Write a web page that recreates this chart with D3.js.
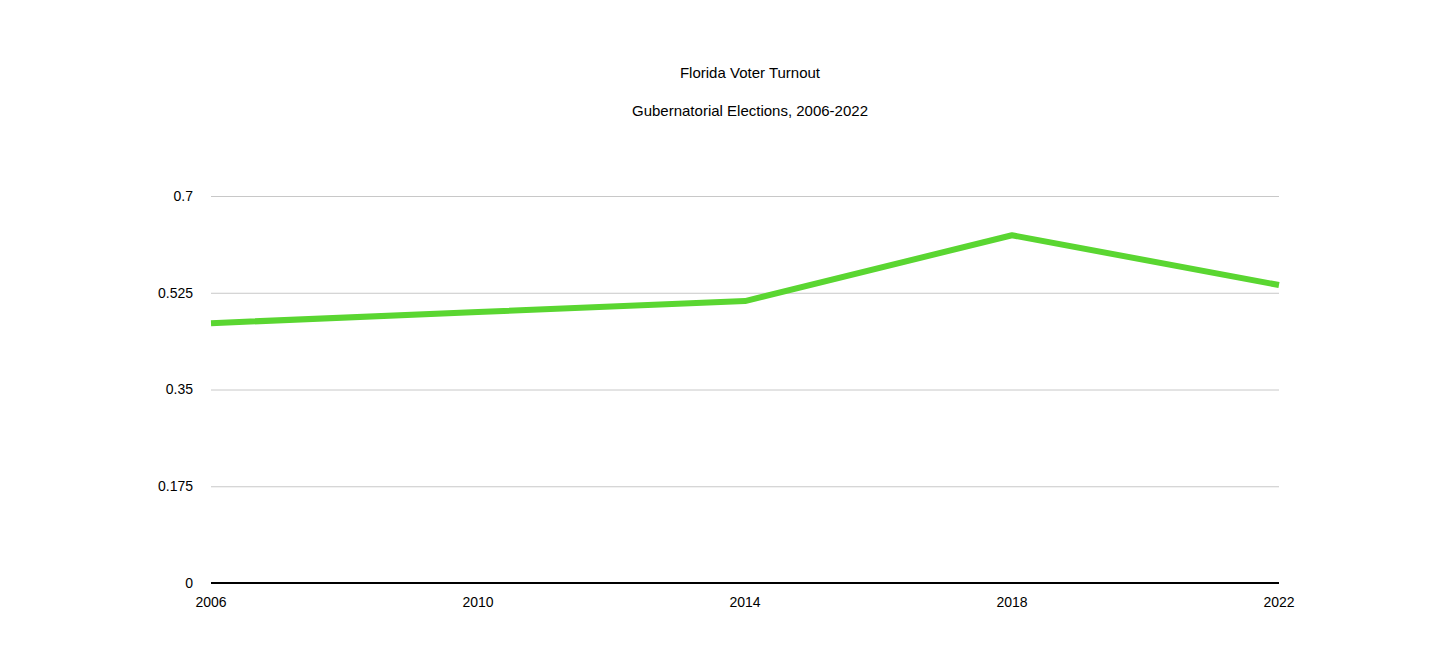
<!DOCTYPE html>
<html><head><meta charset="utf-8">
<script src="https://cdn.jsdelivr.net/npm/d3@7"></script>
<style>body{margin:0;background:#fff;font-family:"Liberation Sans",Arial,sans-serif}</style>
</head><body>
<svg class="linechart" width="1456" height="656"></svg>
<script>
// data
let years = [2006, 2010, 2014, 2018, 2022];
let turnout = [0.470, 0.490, 0.510, 0.629, 0.539];
let yTicks = [0, 0.175, 0.35, 0.525, 0.7];

let svg = d3.select(".linechart");
let margin = {top: 196, left: 211, right: 177, bottom: 73};
let plotWidth = 1456 - margin.left - margin.right;
let plotHeight = 656 - margin.top - margin.bottom;

let x = d3.scaleLinear().domain([2006, 2022]).range([0, plotWidth]);
let y = d3.scaleLinear().domain([0, 0.7]).range([plotHeight, 0]);

let plot = svg.append("g").attr("transform", translate(margin.left, margin.top));

// gridlines
let grid = plot.append("g").call(d3.axisLeft(y).tickValues(yTicks).tickSize(-plotWidth).tickFormat(""));
grid.select(".domain").remove();
grid.selectAll("line").attr("stroke", "#c8c8c8");

// y labels
plot.selectAll(".ylab").data(yTicks).enter().append("text")
  .attr("x", -18).attr("y", d => y(d)).attr("dy", "0.35em")
  .attr("text-anchor", "end").attr("font-size", 14).text(d => d);

// x axis line + labels
plot.append("line").attr("x1", 0).attr("x2", plotWidth)
  .attr("y1", plotHeight).attr("y2", plotHeight).attr("stroke", "#000").attr("stroke-width", 2);
plot.selectAll(".xlab").data(years).enter().append("text")
  .attr("x", d => x(d)).attr("y", plotHeight + 24)
  .attr("text-anchor", "middle").attr("font-size", 14).text(d => d);

let line = d3.line().x((d, i) => x(years[i])).y(d => y(d));
plot.append("path").datum(turnout)
  .attr("fill", "none").attr("stroke", "#5ad631").attr("stroke-width", 6)
  .attr("stroke-linejoin", "round").attr("d", line);

svg.append("text").attr("x", 750).attr("y", 78).attr("text-anchor", "middle")
  .attr("font-size", 15).text("Florida Voter Turnout");
svg.append("text").attr("x", 750).attr("y", 116).attr("text-anchor", "middle")
  .attr("font-size", 15).text("Gubernatorial Elections, 2006-2022");

function translate(x, y) {
  return 'translate(' + x + ',' + y + ')';
}
</script>
</body></html>
